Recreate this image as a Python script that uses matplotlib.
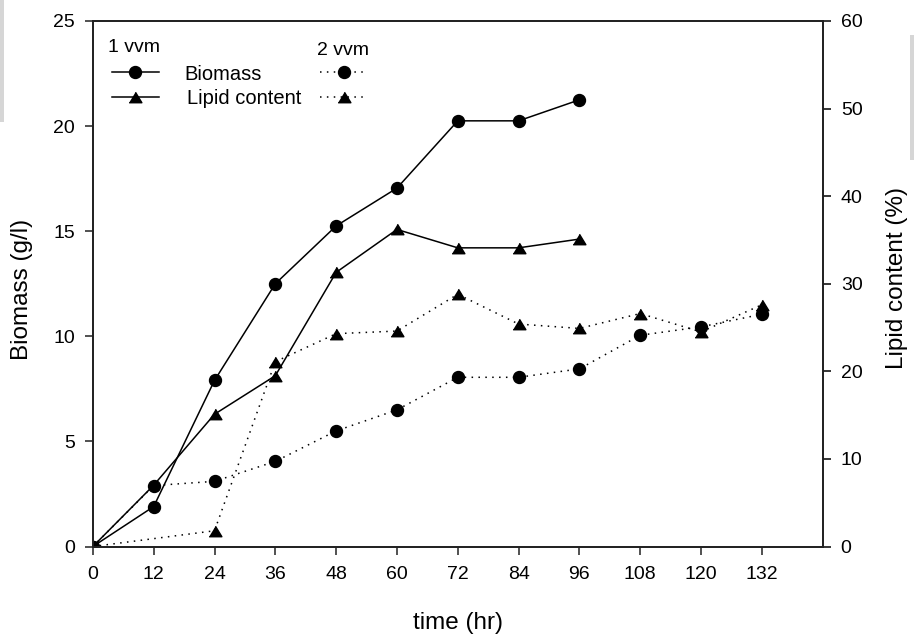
import matplotlib
matplotlib.use("Agg")
import matplotlib.pyplot as plt
from matplotlib.patches import Rectangle

plt.rcParams["font.family"] = ["Liberation Sans", "DejaVu Sans"]

# time points (hr)
time_1vvm = [0, 12, 24, 36, 48, 60, 72, 84, 96]
time_2vvm = [0, 12, 24, 36, 48, 60, 72, 84, 96, 108, 120, 132]
time_lipid_2vvm = [0, 24, 36, 48, 60, 72, 84, 96, 108, 120, 132]

# biomass (g/l)
biomass_1vvm = [0, 1.9, 7.9, 12.5, 15.25, 17.05, 20.25, 20.25, 21.25]
biomass_2vvm = [0, 2.9, 3.1, 4.05, 5.5, 6.5, 8.05, 8.05, 8.45, 10.05, 10.45, 11.05]

# lipid content (%)
lipid_1vvm = [0, 7.0, 15.1, 19.5, 31.3, 36.2, 34.1, 34.1, 35.1]
lipid_2vvm = [0, 1.8, 21.1, 24.3, 24.6, 28.8, 25.4, 24.9, 26.6, 24.5, 27.6]

x_ticks = list(range(0, 133, 12))
left_ticks = [0, 5, 10, 15, 20, 25]
right_ticks = [0, 10, 20, 30, 40, 50, 60]

tri = [(-1, -0.82), (1, -0.82), (0, 0.82)]
dotted = (0, (1, 3.5))
lw = 1.1
ms_c = 8.6
ms_t = 9.2

fig = plt.figure(figsize=(9.14, 6.36), dpi=100)
ax = fig.add_axes([0.1016, 0.1407, 0.7985, 0.8263])
ax2 = ax.twinx()

ax.plot(time_1vvm, biomass_1vvm, color="black", lw=lw, marker="o", ms=ms_c, mec="black", mfc="black")
ax.plot(time_2vvm, biomass_2vvm, color="black", lw=lw, ls=dotted, marker="o", ms=ms_c, mec="black", mfc="black")
ax2.plot(time_1vvm, lipid_1vvm, color="black", lw=lw, marker=tri, ms=ms_t, mec="black", mfc="black",
         markevery=[0, 2, 3, 4, 5, 6, 7, 8])
ax2.plot(time_lipid_2vvm, lipid_2vvm, color="black", lw=lw, ls=dotted, marker=tri, ms=ms_t, mec="black", mfc="black")

ax.set_xlim(0, 144)
ax.set_ylim(0, 25)
ax2.set_ylim(0, 60)
ax.set_xticks(x_ticks)
ax.set_yticks(left_ticks)
ax2.set_yticks(right_ticks)

for a in (ax, ax2):
    for s in a.spines.values():
        s.set_linewidth(1.3)
        s.set_color("#222222")
ax.tick_params(axis="both", direction="out", length=5.5, width=1.1, labelsize=14, pad=7.5, color="#222222")
ax.tick_params(axis="x", pad=8.5)
ax2.tick_params(axis="y", direction="out", length=5.5, width=1.1, labelsize=14, pad=7.5)

ax.set_xlabel("time (hr)", fontsize=17.5)
ax.set_ylabel("Biomass (g/l)", fontsize=17.5)
ax2.set_ylabel("Lipid content (%)", fontsize=17.5)
ax.xaxis.set_label_coords(0.5, -0.125)
ax.yaxis.set_label_coords(-0.082, 0.49)
ax2.yaxis.set_label_coords(1.087, 0.51)

# hand-drawn legend, as in the original
ax.text(0.0211, 0.9416, "1 vvm", transform=ax.transAxes, fontsize=14, va="baseline")
ax.text(0.3075, 0.9353, "2 vvm", transform=ax.transAxes, fontsize=14, va="baseline")
ax.text(0.1252, 0.8877, "Biomass", transform=ax.transAxes, fontsize=14.5, va="baseline")
ax.text(0.1285, 0.842, "Lipid content", transform=ax.transAxes, fontsize=14.5, va="baseline")

rows = [(0.9035, "o", ms_c), (0.8548, tri, ms_t)]
for y, mk, ms in rows:
    ax.plot([0.0257, 0.0906], [y, y], transform=ax.transAxes, color="black", lw=lw, clip_on=False)
    ax.plot([0.0577], [y], transform=ax.transAxes, marker=mk, ms=ms, color="black", clip_on=False)
    ax.plot([0.3112, 0.3742], [y, y], transform=ax.transAxes, color="black", lw=lw, ls=dotted, clip_on=False)
    ax.plot([0.3441], [y], transform=ax.transAxes, marker=mk, ms=ms, color="black", clip_on=False)

# faint grey strips at the screenshot edges
fig.patches.append(Rectangle((0, 1 - 122 / 636), 4 / 914, 122 / 636, transform=fig.transFigure,
                             facecolor="#d6d6d6", edgecolor="none"))
fig.patches.append(Rectangle((910 / 914, 1 - 160 / 636), 4 / 914, 125 / 636, transform=fig.transFigure,
                             facecolor="#d6d6d6", edgecolor="none"))

fig.savefig("out.png", dpi=100)
